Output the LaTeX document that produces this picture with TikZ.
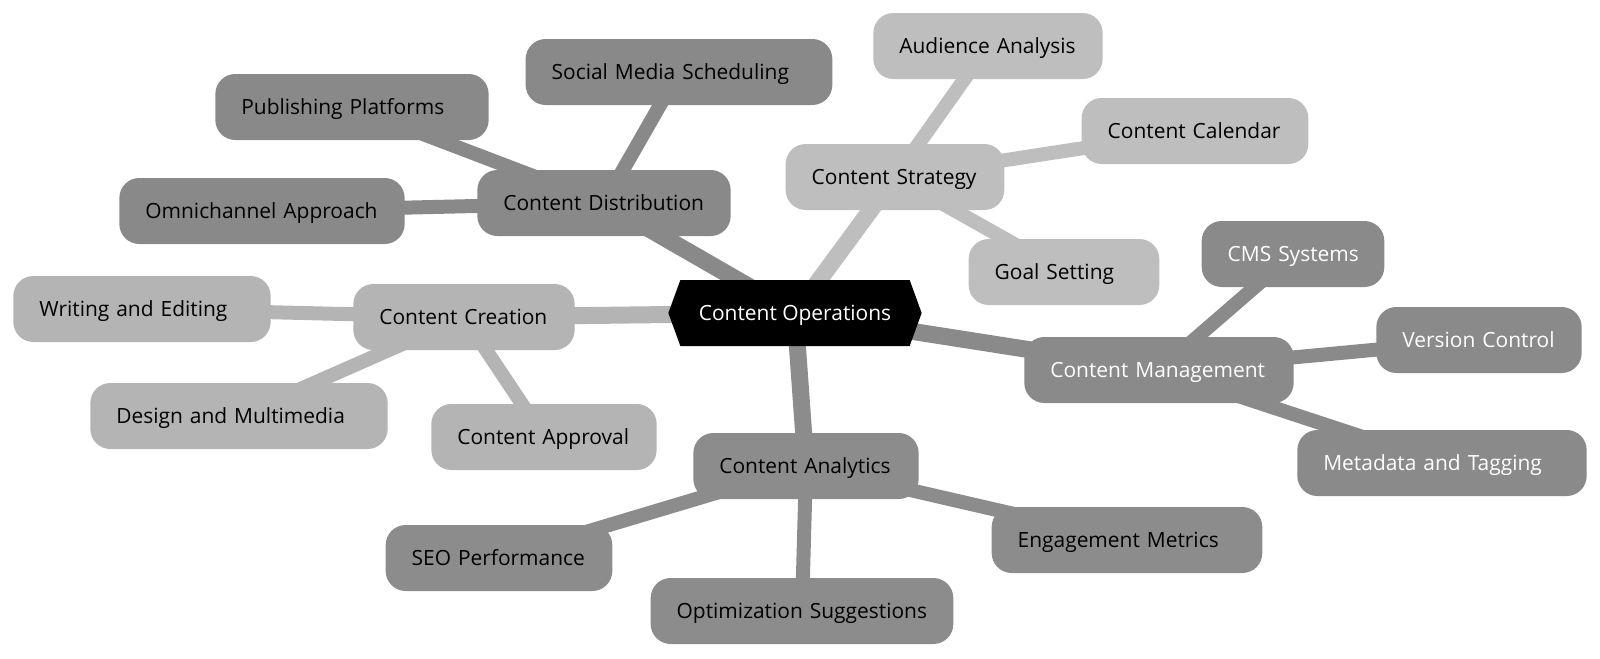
\documentclass[tikz,border=0pt]{standalone}
\usepackage{fontspec}
\setmainfont{Open Sans}
\usetikzlibrary{shapes.symbols}
\definecolor{cstrat}{HTML}{BEBEBE}
\definecolor{ccreat}{HTML}{B4B4B4}
\definecolor{cdist}{HTML}{898989}
\definecolor{cmgmt}{HTML}{8A8A8A}
\definecolor{cana}{HTML}{8C8C8C}
\tikzset{
  box/.style={rounded corners=15pt, minimum height=49.5pt, inner ysep=0pt, inner xsep=19.5pt,
    text width=#1-39pt, align=left, text height=11.2pt, text depth=0pt,
    execute at begin node=\hbox\bgroup, execute at end node=\egroup,
    font=\fontsize{15.7pt}{18pt}\selectfont, text=black},
  e1/.style={line width=12.75pt},
  e2/.style={line width=10.5pt},
}
\pgfdeclarelayer{bg}\pgfsetlayers{bg,main}
\begin{document}
\begin{tikzpicture}[x=0.75pt,y=-0.75pt]
\useasboundingbox (0,0) rectangle (1600,658);
\coordinate (root) at (795,313);
\node[box=164pt, fill=cstrat] (strat) at (895,177) {Content Strategy};
\node[box=172pt, fill=cstrat] (aud) at (988,46) {Audience Analysis};
\node[box=170pt, fill=cstrat] (cal) at (1195,131) {Content Calendar};
\node[box=143pt, fill=cstrat] (goal) at (1064,272) {Goal Setting};
\node[box=202pt, fill=cmgmt, text=white] (mgmt) at (1159,370) {Content Management};
\node[box=137pt, fill=cmgmt, text=white] (cms) at (1293,254) {CMS Systems};
\node[box=154pt, fill=cmgmt, text=white] (ver) at (1479,340) {Version Control};
\node[box=217pt, fill=cmgmt, text=white] (meta) at (1442,463) {Metadata and Tagging};
\node[box=169pt, fill=cana] (ana) at (806,466) {Content Analytics};
\node[box=170pt, fill=cana] (seo) at (499,558) {SEO Performance};
\node[box=227pt, fill=cana] (opt) at (802,611) {Optimization Suggestions};
\node[box=203pt, fill=cana] (eng) at (1127,540) {Engagement Metrics};
\node[box=166pt, fill=ccreat] (creat) at (464,317) {Content Creation};
\node[box=193pt, fill=ccreat] (write) at (142,309) {Writing and Editing};
\node[box=223pt, fill=ccreat] (design) at (239,416) {Design and Multimedia};
\node[box=169pt, fill=ccreat] (appr) at (544,437) {Content Approval};
\node[box=190pt, fill=cdist] (dist) at (604,203) {Content Distribution};
\node[box=205pt, fill=cdist] (pub) at (352,107) {Publishing Platforms};
\node[box=230pt, fill=cdist] (soc) at (679,72) {Social Media Scheduling};
\node[box=214pt, fill=cdist] (omni) at (262,211) {Omnichannel Approach};
\node[signal, signal to=east and west, signal pointer angle=140, fill=black, text=white,
  minimum width=190pt, minimum height=49.5pt, inner sep=0pt, text height=11.2pt, text depth=0pt,
  font=\fontsize{15.7pt}{18pt}\selectfont] (rootn) at (root) {Content Operations};
\begin{pgfonlayer}{bg}
\draw[e1, cstrat] (rootn.center) -- (strat.center);
\draw[e1, cmgmt] (rootn.center) -- (mgmt.center);
\draw[e1, cana] (rootn.center) -- (ana.center);
\draw[e1, ccreat] (rootn.center) -- (creat.center);
\draw[e1, cdist] (rootn.center) -- (dist.center);
\draw[e2, cstrat] (strat.center) -- (aud.center);
\draw[e2, cstrat] (strat.center) -- (cal.center);
\draw[e2, cstrat] (strat.center) -- (goal.center);
\draw[e2, cmgmt] (mgmt.center) -- (cms.center);
\draw[e2, cmgmt] (mgmt.center) -- (ver.center);
\draw[e2, cmgmt] (mgmt.center) -- (meta.center);
\draw[e2, cana] (ana.center) -- (seo.center);
\draw[e2, cana] (ana.center) -- (opt.center);
\draw[e2, cana] (ana.center) -- (eng.center);
\draw[e2, ccreat] (creat.center) -- (write.center);
\draw[e2, ccreat] (creat.center) -- (design.center);
\draw[e2, ccreat] (creat.center) -- (appr.center);
\draw[e2, cdist] (dist.center) -- (pub.center);
\draw[e2, cdist] (dist.center) -- (soc.center);
\draw[e2, cdist] (dist.center) -- (omni.center);
\end{pgfonlayer}
\end{tikzpicture}
\end{document}
